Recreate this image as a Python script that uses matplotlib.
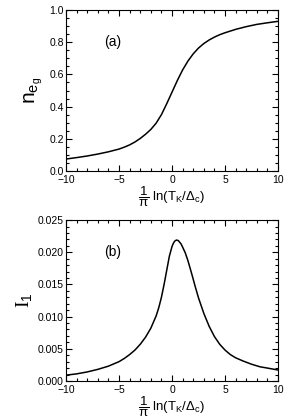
import matplotlib
matplotlib.use("Agg")
import matplotlib.pyplot as plt
from matplotlib.ticker import MultipleLocator, FormatStrFormatter

plt.rcParams['font.family'] = ['Liberation Sans', 'DejaVu Sans']
plt.rcParams['mathtext.fontset'] = 'custom'
plt.rcParams['mathtext.rm'] = 'Liberation Sans'
plt.rcParams['mathtext.it'] = 'Liberation Sans:italic'

# Panel (a): n_eg vs (1/pi) ln(TK/Dc)
x_a = [-10, -9, -8, -7, -6, -5, -4.5, -4, -3.5, -3, -2.5, -2, -1.5, -1, -0.5, 0,
       0.5, 1.0, 1.5, 2.0, 2.5, 3.0, 3.5, 4.0, 4.5, 5.0, 6, 7, 8, 9, 10]
n_eg = [0.074, 0.083, 0.093, 0.105, 0.119, 0.136, 0.148, 0.162, 0.180, 0.202, 0.228, 0.258, 0.297, 0.350, 0.418, 0.490,
        0.562, 0.628, 0.683, 0.728, 0.764, 0.792, 0.814, 0.832, 0.847, 0.859, 0.880, 0.897, 0.911, 0.921, 0.930]

# Panel (b): I_1 vs (1/pi) ln(TK/Dc)
x_b = [-10, -9, -8, -7, -6, -5, -4.5, -4, -3.5, -3, -2.5, -2, -1.5, -1.25, -1.0, -0.75, -0.5, -0.25, 0, 0.1, 0.2, 0.3,
       0.45, 0.6, 0.7, 0.85, 1.0, 1.25, 1.5, 1.85, 2.2, 2.5, 3.0, 3.5, 4.0, 4.5, 5.0, 5.5, 6.0, 6.7, 7.5, 8.3, 9.0, 10]
I_1 = [0.0009, 0.0011, 0.0014, 0.0018, 0.0023, 0.0030, 0.0035, 0.0041, 0.0048, 0.0057, 0.0068, 0.0082, 0.0101, 0.0114, 0.0130, 0.0150, 0.0172, 0.0194, 0.0209, 0.0213, 0.0216, 0.0218,
       0.0219, 0.0218, 0.0216, 0.0213, 0.0208, 0.0199, 0.0187, 0.0167, 0.0146, 0.0129, 0.0105, 0.0085, 0.0069, 0.0057, 0.0048, 0.0041, 0.0036, 0.0031, 0.0026, 0.0022, 0.0020, 0.0017]

xlabel = r'$\dfrac{1}{\mathrm{\pi}}$ ln(T$_\mathrm{K}$/$\Delta_\mathrm{c}$)'

fig = plt.figure(figsize=(2.86, 4.2), dpi=100)
ax1 = fig.add_axes([0.231, 0.593, 0.741, 0.383])
ax2 = fig.add_axes([0.231, 0.093, 0.741, 0.383])

def style(ax):
    ax.tick_params(which='both', direction='in', top=True, right=True, labelsize=7.5, width=0.8)
    ax.tick_params(axis='x', pad=3)
    ax.tick_params(axis='y', pad=1.5)
    ax.tick_params(which='major', length=4.5)
    ax.tick_params(which='minor', length=2.5)
    ax.set_xlim(-10, 10)
    ax.xaxis.set_major_locator(MultipleLocator(5))
    ax.xaxis.set_minor_locator(MultipleLocator(1))
    for s in ax.spines.values():
        s.set_linewidth(0.8)
    ax.set_xlabel(xlabel, fontsize=9.5, labelpad=0)

ax1.plot(x_a, n_eg, color='black', lw=1.1)
style(ax1)
ax1.set_ylim(0, 1.0)
ax1.yaxis.set_major_locator(MultipleLocator(0.2))
ax1.yaxis.set_minor_locator(MultipleLocator(0.05))
ax1.yaxis.set_major_formatter(FormatStrFormatter('%.1f'))
ax1.set_ylabel(r'n$_{\mathrm{e}_\mathrm{g}}$', fontsize=15, labelpad=3)
ax1.text(-5.6, 0.80, '(a)', fontsize=10, ha='center', va='center')

ax2.plot(x_b, I_1, color='black', lw=1.1)
style(ax2)
ax2.set_ylim(0, 0.025)
ax2.yaxis.set_major_locator(MultipleLocator(0.005))
ax2.yaxis.set_minor_locator(MultipleLocator(0.001))
ax2.yaxis.set_major_formatter(FormatStrFormatter('%.3f'))
ax2.set_ylabel(r'I$_1$', fontsize=14, family=['Liberation Serif', 'DejaVu Serif'], labelpad=3)
ax2.text(-5.6, 0.020, '(b)', fontsize=10, ha='center', va='center')

fig.savefig('out.png', dpi=100)
